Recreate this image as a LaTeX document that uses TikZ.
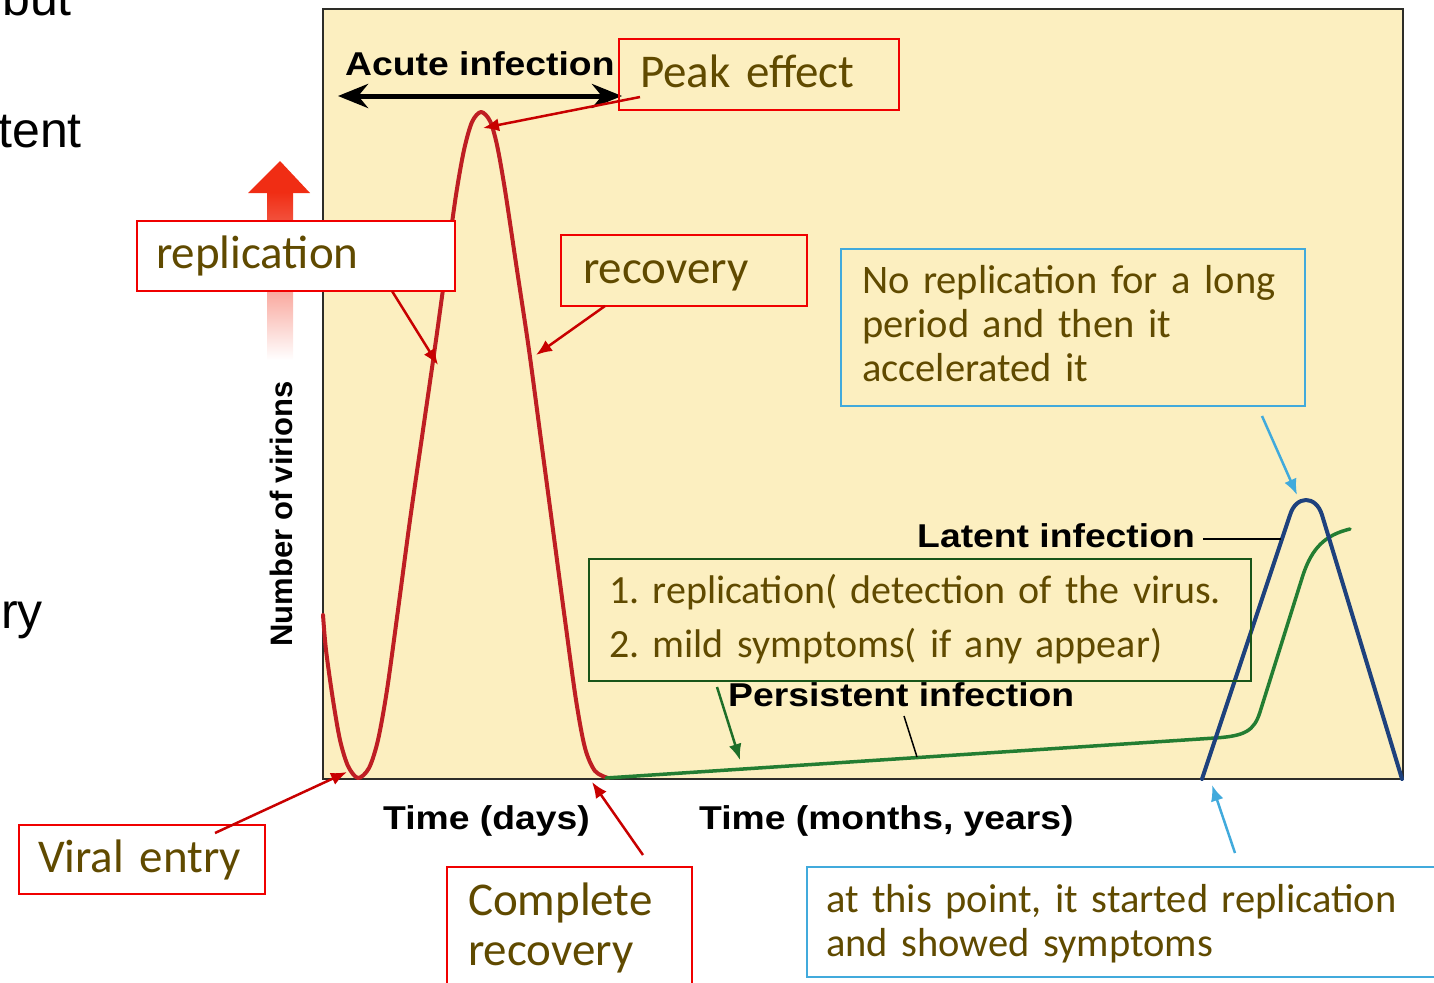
\documentclass[tikz,border=0pt]{standalone}
\usepackage{fontspec}
\setmainfont{Carlito}[WordSpace=0.75]
\newfontfamily\arialf{Liberation Sans}
\usetikzlibrary{arrows.meta,calc}
\frenchspacing
\definecolor{chartbg}{RGB}{252,239,192}
\definecolor{chartln}{RGB}{45,45,40}
\definecolor{txtbrown}{RGB}{96,74,0}
\definecolor{boxred}{RGB}{240,0,0}
\definecolor{arrred}{RGB}{200,0,0}
\definecolor{curvered}{RGB}{190,30,35}
\definecolor{boxblue}{RGB}{65,170,220}
\definecolor{boxgreen}{RGB}{25,85,25}
\definecolor{curvegreen}{RGB}{35,125,50}
\definecolor{curveblue}{RGB}{30,65,125}
\definecolor{arrgreen}{RGB}{30,110,40}
\definecolor{gradred}{RGB}{240,45,20}
\begin{document}
\begin{tikzpicture}[x=1pt,y=-1pt,
  note/.style={anchor=north west, inner ysep=0pt, outer sep=0pt, align=left,
    text=txtbrown, line width=2.5pt},
  bigf/.style={font=\frenchspacing\fontsize{47}{50}\selectfont},
  smallf/.style={font=\frenchspacing\fontsize{40.5}{44}\selectfont},
  charttxt/.style={inner sep=0pt, font=\arialf\bfseries\fontsize{33}{36}\selectfont,
    xscale=1.13, transform shape},
  sidetxt/.style={anchor=base east, inner sep=0pt, font=\arialf\fontsize{50}{56}\selectfont},
  redarr/.style={draw=arrred, line width=2.5pt, -{Latex[length=16pt,width=13pt]}},
  bluearr/.style={draw=boxblue, line width=2.5pt, -{Latex[length=16pt,width=13pt]}},
  greenarr/.style={draw=arrgreen, line width=2.5pt, -{Latex[length=16pt,width=13pt]}},
  curve/.style={line width=4pt, line join=round, line cap=round}
]
\useasboundingbox (0,0) rectangle (1434,982);
\clip (0,0) rectangle (1434,982);

% side texts cut at the left
\node[sidetxt] (but) at (72,16) {but};
\node[sidetxt] (tent) at (82,147) {tent};
\node[sidetxt] (ry) at (43,628) {ry};

% chart frame
\fill[chartbg] (323,9) rectangle (1403,779);
\draw[chartln, line width=2.5pt] (323,9) rectangle (1403,779);

% y axis arrow and label
\fill[gradred] (280,161) -- (310,193) -- (248,193) -- cycle;
\shade[top color=gradred, middle color=gradred!70!white, bottom color=white] (267,192) rectangle (293,360);
\node[inner sep=0pt, rotate=90, anchor=base, font=\arialf\bfseries\fontsize{31}{33}\selectfont] (ylab) at (292,514) {Number of virions};

% acute infection double arrow
\node[charttxt, anchor=base west] (acute) at (345,75) {Acute infection};
\coordinate (acL) at (338,96);
\coordinate (acR) at (622,96);
\draw[line width=5pt, {Stealth[length=30pt,width=24pt]}-{Stealth[length=30pt,width=24pt]}] (acL) -- (acR);

% curves
\draw[curve, curvered] plot[smooth, tension=0.5] coordinates {
 (323,615) (326,650) (333,700) (340,740) (348,766) (358,778) (369,768) (378,740)
 (387,690) (398,610) (410,520) (423,430) (436,340) (447,260) (456,195) (464,150)
 (472,122) (481,112) (490,121) (497,145) (505,190) (517,270) (529,350) (541,440)
 (553,530) (565,620) (576,700) (585,748) (595,771) (608,778)};
\draw[curve, curvegreen, line width=3.5pt] (606,778) -- (1215,738)
  .. controls (1245,736) and (1254,731) .. (1260,712) -- (1303,575)
  .. controls (1312,548) and (1325,535) .. (1350,529);
\draw[curve, curveblue] (1202,779) -- (1290,515) .. controls (1296,495) and (1316,495) .. (1322,515) -- (1402,779);

% chart labels
\node[charttxt, anchor=base west] (latent) at (917,547) {Latent infection};
\coordinate (latentend) at (1281,539);
\draw[line width=1.5pt] ($(latent.base east)+(8,-8)$) -- (latentend);
\node[charttxt, anchor=base west] (persist) at (728,706) {Persistent infection};
\coordinate (persistend) at (917,757);
\draw[line width=1.5pt] (904,716) -- (persistend);
\node[charttxt, anchor=base west] (days) at (383,829) {Time (days)};
\node[charttxt, anchor=base west] (months) at (699,829) {Time (months, years)};

% annotation boxes
\node[note, bigf, draw=boxred, inner xsep=21pt, text width=238pt, text height=49pt, text depth=22pt] (peak) at (619,39) {\mbox{Peak effect}};
\node[note, bigf, draw=boxred, fill=white, inner xsep=19pt, text width=280pt, text height=47pt, text depth=23pt] (repl) at (137,221) {\mbox{replication}};
\node[note, bigf, draw=boxred, inner xsep=22pt, text width=202pt, text height=48pt, text depth=23pt] (recov) at (561,235) {\mbox{recovery}};
\node[note, smallf, draw=boxblue, inner xsep=21pt, text width=422pt, text height=44pt, text depth=113pt] (nob) at (841,249) {\mbox{No replication for a long}\\\mbox{period and then it}\\\mbox{accelerated it}};
\node[note, font=\frenchspacing\fontsize{40}{54}\selectfont, draw=boxgreen, inner xsep=20pt, text width=622pt, text height=44pt, text depth=78pt] (gbox) at (589,559) {\mbox{1. replication( detection of the virus.}\\\mbox{2. mild symptoms( if any appear)}};
\node[note, bigf, draw=boxred, fill=white, inner xsep=19pt, text width=208pt, text height=47pt, text depth=22pt] (viral) at (19,825) {\mbox{Viral entry}};
\node[note, bigf, draw=boxred, fill=white, inner xsep=21pt, text width=203pt, text height=48pt, text depth=85pt] (complete) at (447,867) {\mbox{Complete}\\\mbox{recovery}};
\node[note, smallf, draw=boxblue, fill=white, inner xsep=19pt, text width=615pt, text height=45pt, text depth=65pt] (atb) at (807,867) {\mbox{at this point, it started replication}\\\mbox{and showed symptoms}};

% arrow tips
\coordinate (peaktip) at (483,128);
\coordinate (repltip) at (438,365);
\coordinate (recovtip) at (536,355);
\coordinate (viraltip) at (347,772);
\coordinate (completetip) at (592,782);
\coordinate (nobtip) at (1297,495);
\coordinate (atbtip) at (1212,785);
\coordinate (gtip) at (740,760);

\draw[redarr] ($(peak.south west)+(21,-13)$) -- (peaktip);
\draw[redarr] ($(repl.south west)+(255,0)$) -- (repltip);
\draw[redarr] ($(recov.south west)+(44,0)$) -- (recovtip);
\draw[redarr] ($(viral.north west)+(196,8)$) -- (viraltip);
\draw[redarr] ($(complete.north west)+(196,-12)$) -- (completetip);
\draw[bluearr] ($(nob.south east)+(-43,10)$) -- (nobtip);
\draw[bluearr] ($(atb.north west)+(428,-14)$) -- (atbtip);
\draw[greenarr] ($(gbox.south west)+(128,6)$) -- (gtip);
\end{tikzpicture}
\end{document}
